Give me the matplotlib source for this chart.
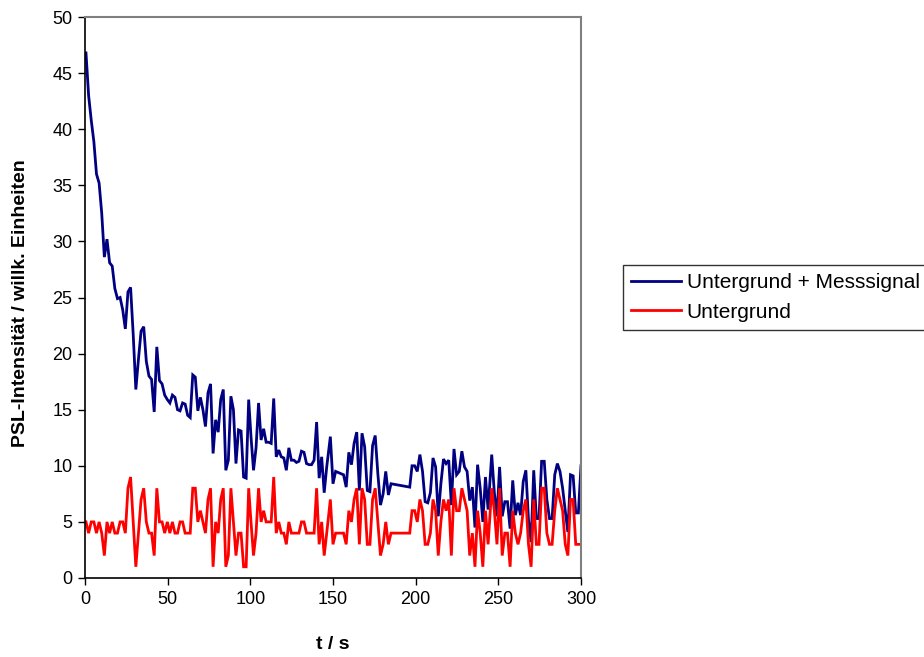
import numpy as np
import matplotlib
matplotlib.use("Agg")
import matplotlib.pyplot as plt

plt.rcParams["font.family"] = ["Liberation Sans", "DejaVu Sans"]

# Measurement blocks: (start time, end time) in s; samples within a block are equally spaced
block_spans = [(0.6, 48.2), (49.8, 99.0), (100.4, 146.2), (148.4, 185.1), (197.8, 243.8), (246.0, 300.0)]
# one isolated sample after the gap around 186-196 s
extra_time = 196.4

signal_blocks = [
    [46.8, 43.0, 40.8, 38.9, 36.0, 35.2, 32.5, 28.6, 30.2, 28.1, 27.8, 25.8, 24.9, 25.0, 23.9, 22.2,
     25.5, 25.9, 21.7, 16.8, 19.5, 22.0, 22.4, 19.3, 18.0, 17.7, 14.8, 20.6, 17.6, 17.3, 16.3],
    [15.9, 15.6, 16.3, 16.1, 15.0, 14.9, 15.6, 15.5, 14.5, 14.3, 18.1, 17.9, 14.9, 16.1, 15.0, 13.5,
     16.5, 17.3, 11.1, 14.1, 13.0, 15.9, 16.8, 9.6, 10.5, 16.2, 15.0, 10.2, 13.2, 13.1, 9.0, 8.9, 15.9],
    [12.6, 9.6, 11.6, 15.6, 12.3, 13.3, 12.1, 12.1, 12.0, 16.0, 10.8, 11.4, 10.8, 10.7, 9.6, 11.6,
     10.5, 10.5, 10.3, 10.4, 11.3, 11.2, 10.2, 10.1, 10.1, 10.5, 13.9, 8.9, 10.8, 7.6, 9.9],
    [12.6, 8.4, 9.5, 9.4, 9.3, 9.2, 8.1, 11.2, 10.1, 12.0, 13.0, 7.8, 12.9, 11.7, 7.8, 7.7,
     11.8, 12.7, 9.3, 6.5, 7.5, 9.5, 7.4, 8.4],
    [10.0, 10.0, 9.5, 11.0, 9.5, 6.8, 6.7, 7.6, 10.7, 9.9, 5.5, 8.4, 10.6, 10.2, 10.5, 6.5,
     11.5, 9.2, 9.5, 11.3, 9.9, 9.5, 6.9, 8.1, 4.5, 10.1, 8.0, 5.0, 9.0, 6.1],
    [11.0, 7.6, 5.5, 9.9, 5.5, 6.8, 6.8, 4.4, 8.7, 5.6, 6.7, 5.6, 8.6, 9.6, 5.2, 3.2,
     9.6, 5.3, 5.3, 10.4, 10.4, 7.0, 5.3, 5.3, 9.2, 10.2, 9.5, 8.0, 6.0, 4.1, 9.2, 9.1, 5.8, 5.8, 10.0],
]
signal_extra = 8.1

background_blocks = [
    [5, 4, 5, 5, 4, 5, 4, 2, 5, 4, 5, 4, 4, 5, 5, 4, 8, 9, 5, 1, 4, 7, 8, 5, 4, 4, 2, 8, 5, 5, 4],
    [5, 4, 5, 4, 4, 5, 5, 4, 4, 4, 8, 8, 5, 6, 5, 4, 7, 8, 1, 5, 4, 7, 8, 1, 2, 8, 5, 2, 4, 4, 1, 1, 8],
    [5, 2, 4, 8, 5, 6, 5, 5, 5, 9, 4, 5, 4, 4, 3, 5, 4, 4, 4, 4, 5, 5, 4, 4, 4, 4, 8, 3, 5, 2, 4],
    [7, 3, 4, 4, 4, 4, 3, 6, 5, 7, 8, 3, 8, 7, 3, 3, 7, 8, 5, 2, 3, 5, 3, 4],
    [6, 6, 5, 7, 6, 3, 3, 4, 7, 6, 2, 5, 7, 6, 7, 2, 8, 6, 6, 8, 7, 6, 2, 4, 1, 6, 4, 1, 6, 3],
    [8, 6, 3, 8, 2, 4, 4, 1, 6, 4, 3, 4, 6, 7, 3, 1, 7, 3, 3, 8, 8, 4, 3, 3, 6, 8, 7, 6, 3, 2, 7, 7, 3, 3, 3],
]
background_extra = 4

x_ticks = [0, 50, 100, 150, 200, 250, 300]
y_ticks = [0, 5, 10, 15, 20, 25, 30, 35, 40, 45, 50]

# assemble time axis and series
t, sig, bg = [], [], []
for i, ((a, b), s, g) in enumerate(zip(block_spans, signal_blocks, background_blocks)):
    t.extend(np.linspace(a, b, len(s)))
    sig.extend(s)
    bg.extend(g)
    if i == 3:
        t.append(extra_time)
        sig.append(signal_extra)
        bg.append(background_extra)

W, H = 924, 657
fig = plt.figure(figsize=(W / 100, H / 100), dpi=100)
ax = fig.add_axes([85 / W, 1 - 578 / H, (581 - 85) / W, (578 - 17) / H])

ax.plot(t, sig, color="#000080", lw=2.0, label="Untergrund + Messsignal", solid_joinstyle="miter")
ax.plot(t, bg, color="#FF0000", lw=2.0, label="Untergrund", solid_joinstyle="miter")

ax.set_xlim(0, 300)
ax.set_ylim(0, 50)
ax.set_xticks(x_ticks)
ax.set_yticks(y_ticks)
ax.tick_params(direction="out", length=5, width=1, labelsize=13, pad=4)

for side in ("top", "right"):
    ax.spines[side].set_color("#808080")
    ax.spines[side].set_linewidth(1.5)
for side in ("left", "bottom"):
    ax.spines[side].set_color("black")
    ax.spines[side].set_linewidth(1.2)

ax.set_xlabel("t / s", fontsize=14, fontweight="bold")
ax.set_ylabel("PSL-Intensität / willk. Einheiten", fontsize=14, fontweight="bold")
ax.xaxis.set_label_coords(0.5, -(636 - 578) / 561)
ax.yaxis.set_label_coords((29 - 85) / 496, 0.49)

leg = fig.legend(loc="upper left", bbox_to_anchor=(623 / W, 1 - 265 / H),
                 frameon=True, fancybox=False, shadow=False, fontsize=15,
                 handlelength=2.4, handletextpad=0.25, borderpad=0.4,
                 labelspacing=0.5, borderaxespad=0)
leg.get_frame().set_edgecolor("black")
leg.get_frame().set_linewidth(1.0)
for line in leg.get_lines():
    line.set_linewidth(2.0)

fig.savefig("out.png", dpi=100)
